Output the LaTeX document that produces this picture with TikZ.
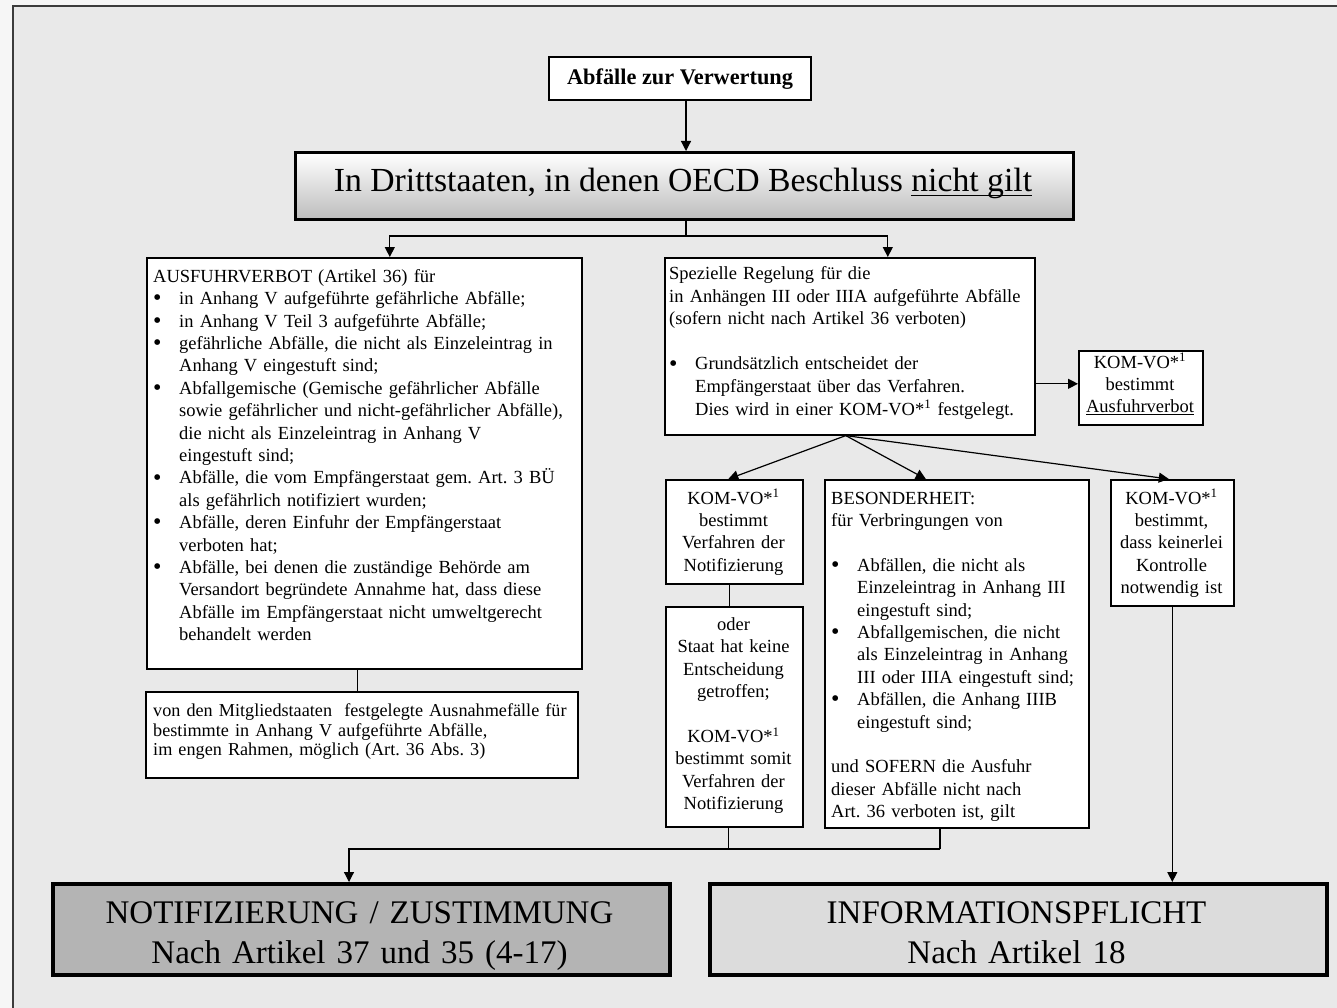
\documentclass[tikz,border=0pt]{standalone}
\usepackage{fontspec}
\setmainfont{Liberation Serif}
\usetikzlibrary{arrows.meta}
\definecolor{outbg}{RGB}{246,246,246}
\definecolor{inbg}{RGB}{233,233,233}
\definecolor{framec}{RGB}{60,60,60}
\definecolor{ngray}{RGB}{180,180,180}
\definecolor{igray}{RGB}{220,220,220}
\definecolor{mgray}{RGB}{188,188,188}
\newcommand{\bigbul}{\raisebox{-1.2pt}{\fontsize{24pt}{24pt}\selectfont\textbullet}}
\newcommand{\bitem}[1]{\par\hangindent=26pt\hangafter=1\noindent\hbox to 26pt{\bigbul\hfil}#1\par}
\newcommand{\ulx}[3]{\leavevmode\setbox0\hbox{#3}\rlap{\rule[-#1]{\wd0}{#2}}\box0}
\newcommand{\kom}{KOM-VO*\textsuperscript{1}}
\AtBeginDocument{\frenchspacing}
\begin{document}
\begin{tikzpicture}[x=1pt,y=-1pt,
  bx/.style={draw, line width=1.6pt, fill=white, anchor=north west, inner sep=0pt},
  ln/.style={line width=1.2pt},
  arr/.style={line width=1.2pt, -{Triangle[length=10pt,width=10pt]}},
  body/.style={font=\frenchspacing\fontsize{18.5pt}{22.4pt}\selectfont, inner sep=0pt},
  ltxt/.style={body, align=left, anchor=base west},
  ctxt/.style={body, align=center, anchor=base},
  bigtxt/.style={font=\fontsize{33pt}{40.5pt}\selectfont, inner sep=0pt, align=center, anchor=base, text width=600pt},
]
\useasboundingbox (0,0) rectangle (1337,1008);
\path[fill=outbg] (0,0) rectangle (1337,1008);
\path[fill=inbg] (12.5,6) rectangle (1337,1008);
\draw[framec, line width=2pt] (12.5,1008) -- (12.5,6) -- (1337,6);

% top box
\node[bx, minimum width=262pt, minimum height=43pt] (T) at (548,56) {};
\node[font=\bfseries\fontsize{22.3pt}{26pt}\selectfont, inner sep=0pt, anchor=base] (Tt) at (680,85) {Abfälle zur Verwertung};

% main title box
\node[draw, line width=3.4pt, top color=white, bottom color=mgray, anchor=north west, inner sep=0pt, minimum width=778pt, minimum height=67pt] (M) at (294,151) {};
\node[inner sep=0pt, anchor=base, font=\fontsize{33.7pt}{38pt}\selectfont] (Mt) at (683,192) {In Drittstaaten, in denen OECD Beschluss \ulx{4.5pt}{1.8pt}{nicht gilt}};

% left box
\node[bx, minimum width=435pt, minimum height=411pt] (L) at (146,257) {};
\node[ltxt, text width=440pt] (Lt) at (153,282.3) {AUSFUHRVERBOT (Artikel 36) für\par
\bitem{in Anhang V aufgeführte gefährliche Abfälle;}
\bitem{in Anhang V Teil 3 aufgeführte Abfälle;}
\bitem{gefährliche Abfälle, die nicht als Einzeleintrag in\newline Anhang V eingestuft sind;}
\bitem{Abfallgemische (Gemische gefährlicher Abfälle\newline sowie gefährlicher und nicht-gefährlicher Abfälle),\newline die nicht als Einzeleintrag in Anhang V\newline eingestuft sind;}
\bitem{Abfälle, die vom Empfängerstaat gem. Art. 3 BÜ\newline als gefährlich notifiziert wurden;}
\bitem{Abfälle, deren Einfuhr der Empfängerstaat\newline verboten hat;}
\bitem{Abfälle, bei denen die zuständige Behörde am\newline Versandort begründete Annahme hat, dass diese\newline Abfälle im Empfängerstaat nicht umweltgerecht\newline behandelt werden}};

% footnote box
\node[bx, minimum width=432pt, minimum height=86pt] (F) at (145,691) {};
\node[ltxt, text width=440pt, font=\frenchspacing\fontsize{18.2pt}{19.5pt}\selectfont] (Ft) at (153,716.5) {von den Mitgliedstaaten\ \ festgelegte Ausnahmefälle für\newline bestimmte in Anhang V aufgeführte Abfälle,\newline im engen Rahmen, möglich (Art. 36 Abs. 3)};

% center box
\node[bx, minimum width=370pt, minimum height=177pt] (C) at (664,257) {};
\node[ltxt, text width=380pt, font=\frenchspacing\fontsize{18.5pt}{22.6pt}\selectfont] (Ct) at (669,279.5) {Spezielle Regelung für die\newline in Anhängen III oder IIIA aufgeführte Abfälle\newline (sofern nicht nach Artikel 36 verboten)\par\vskip 22.6pt
\bitem{Grundsätzlich entscheidet der\newline Empfängerstaat über das Verfahren.\newline Dies wird in einer \kom{} festgelegt.}};

% KOM-VO Ausfuhrverbot
\node[bx, minimum width=124pt, minimum height=74pt] (R1) at (1078,350) {};
\node[ctxt, text width=130pt] (R1t) at (1140,368) {\kom\\bestimmt\\\ulx{2.5pt}{1pt}{Ausfuhrverbot}};

% KOM-VO Verfahren
\node[bx, minimum width=137pt, minimum height=104pt] (K1) at (665,479) {};
\node[ctxt, text width=135pt] (K1t) at (733.5,504) {\kom\\bestimmt\\Verfahren der\\Notifizierung};

% oder box
\node[bx, minimum width=137pt, minimum height=220pt] (K2) at (665,606) {};
\node[ctxt, text width=135pt] (K2t) at (733.5,630.5) {oder\\Staat hat keine\\Entscheidung\\getroffen;\\[22.4pt]\kom\\bestimmt somit\\Verfahren der\\Notifizierung};

% Besonderheit
\node[bx, minimum width=264pt, minimum height=348pt] (B) at (824,479) {};
\node[ltxt, text width=280pt] (Bt) at (831,504) {BESONDERHEIT:\newline für Verbringungen von\par\vskip 22.4pt
\bitem{Abfällen, die nicht als\newline Einzeleintrag in Anhang III\newline eingestuft sind;}
\bitem{Abfallgemischen, die nicht\newline als Einzeleintrag in Anhang\newline III oder IIIA eingestuft sind;}
\bitem{Abfällen, die Anhang IIIB\newline eingestuft sind;}
\vskip 22.4pt
\noindent und SOFERN die Ausfuhr\newline dieser Abfälle nicht nach\newline Art. 36 verboten ist, gilt};

% KOM-VO keine Kontrolle
\node[bx, minimum width=123pt, minimum height=126pt] (K3) at (1110,479) {};
\node[ctxt, text width=130pt] (K3t) at (1171.5,504) {\kom\\bestimmt,\\dass keinerlei\\Kontrolle\\notwendig ist};

% bottom boxes
\node[draw, line width=4pt, fill=ngray, anchor=north west, inner sep=0pt, minimum width=617pt, minimum height=91pt] (N) at (51,882) {};
\node[bigtxt] (Nt) at (359.5,923.3) {NOTIFIZIERUNG / ZUSTIMMUNG\\Nach Artikel 37 und 35 (4-17)};
\node[draw, line width=4pt, fill=igray, anchor=north west, inner sep=0pt, minimum width=617pt, minimum height=91pt] (I) at (708,882) {};
\node[bigtxt] (It) at (1016.5,923.3) {INFORMATIONSPFLICHT\\Nach Artikel 18};

% connectors
\coordinate (j1) at (686,236);
\draw[arr] (j1 |- T.south) -- (j1 |- M.north);
\draw[ln] (j1 |- M.south) -- (j1);
\draw[arr] (j1) -| ([xshift=25.5pt]L.north);
\draw[arr] (j1) -| ([xshift=38pt]C.north);
\draw[ln] ([xshift=-6.5pt]L.south) -- ([xshift=-6.5pt]L.south |- F.north);
\draw[arr] ([yshift=4pt]R1.west -| C.east) -- ([yshift=4pt]R1.west);
\draw[arr] ([xshift=-4pt]C.south) -- ([xshift=-6pt]K1.north);
\draw[arr] ([xshift=-4pt]C.south) -- ([xshift=-31pt]B.north);
\draw[arr] ([xshift=-4pt]C.south) -- ([xshift=-3.5pt]K3.north);
\draw[ln] ([xshift=-5pt]K1.south) -- ([xshift=-5pt]K1.south |- K2.north);
\coordinate (j2) at (940,849);
\draw[ln] (j2 |- B.south) -- (j2);
\draw[ln] ([xshift=-6pt]K2.south) -- ([xshift=-6pt]K2.south |- j2);
\draw[arr] (j2) -| ([xshift=-12.5pt]N.north);
\draw[arr] (K3.south) -- (K3.south |- I.north);
\end{tikzpicture}
\end{document}
